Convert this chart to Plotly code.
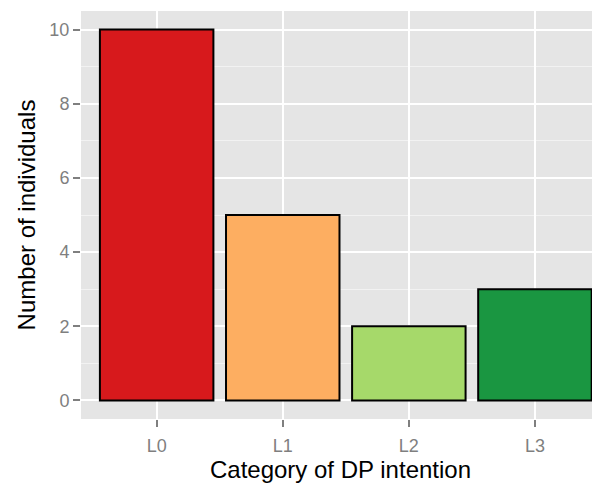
import plotly.graph_objects as go

categories = ["L0", "L1", "L2", "L3"]
counts = [10, 5, 2, 3]
bar_colors = ["#D7191C", "#FDAE61", "#A6D96A", "#1A9641"]
y_ticks = [0, 2, 4, 6, 8, 10]

fig = go.Figure()
fig.add_trace(go.Bar(
    x=categories, y=counts, width=0.9,
    marker=dict(color=bar_colors, line=dict(color="black", width=2)),
    showlegend=False,
))

# page body has an 8px margin, so the figure is sized to fit the 600x483 window
fig.update_layout(
    width=592, height=475,
    margin=dict(l=73, r=0, t=3, b=64, autoexpand=False),
    paper_bgcolor="white",
    plot_bgcolor="#E5E5E5",
    font=dict(family="Liberation Sans, Arial, sans-serif"),
    bargap=0.1,
)
fig.update_xaxes(
    range=[-0.6, 3.516], automargin=False,
    showgrid=True, gridcolor="white", gridwidth=2,
    ticks="outside", ticklen=7, tickwidth=2, tickcolor="#7F7F7F",
    ticklabelstandoff=3,
    tickfont=dict(size=18, color="#7F7F7F"),
    title=dict(text="Category of DP intention", font=dict(size=24, color="black"), standoff=8),
    zeroline=False, showline=False,
)
fig.update_yaxes(
    range=[-0.5, 10.5], automargin=False,
    tickvals=y_ticks,
    showgrid=True, gridcolor="white", gridwidth=2,
    minor=dict(dtick=1, tick0=1, showgrid=True, gridcolor="#F2F2F2", gridwidth=1),
    ticks="outside", ticklen=7, tickwidth=2, tickcolor="#7F7F7F",
    tickfont=dict(size=18, color="#7F7F7F"),
    title=dict(text="Number of individuals", font=dict(size=24, color="black"), standoff=6),
    zeroline=False, showline=False,
)

fig.write_html("out.html")
